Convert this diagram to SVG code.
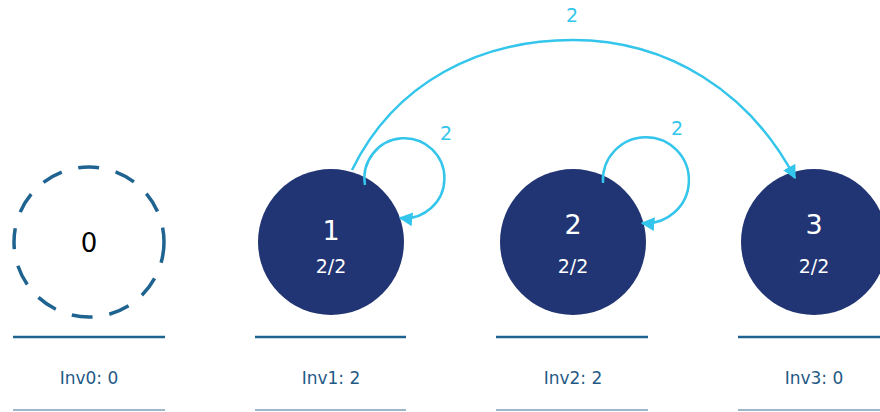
<svg xmlns="http://www.w3.org/2000/svg" width="880" height="412" viewBox="0 0 880 412">
<style>
.node{fill:#213473}
.nt{font-family:"DejaVu Sans","Liberation Sans",sans-serif;fill:#fff;text-anchor:middle}
.inv{font-family:"DejaVu Sans","Liberation Sans",sans-serif;fill:#1f5a85;font-size:17px;text-anchor:middle}
.top{stroke:#1f6391;stroke-width:2.5}
.bot{stroke:#3f6f95;stroke-width:1}
.edge{fill:none;stroke:#33c5eb;stroke-width:2.5}
.el{font-family:"DejaVu Sans","Liberation Sans",sans-serif;fill:#33c5eb;font-size:19px;text-anchor:middle}
</style>
<defs>
<marker id="arr" viewBox="0 0 10 10" refX="9" refY="5" markerWidth="5.5" markerHeight="5.5" orient="auto" markerUnits="strokeWidth">
<path d="M0,0 L10,5 L0,10 z" fill="#33c5eb"/>
</marker>
</defs>
<rect width="880" height="412" fill="#fff"/>
<g id="node0">
<circle cx="89" cy="242" r="75" fill="none" stroke="#1f6391" stroke-width="3.5" stroke-dasharray="21 17"/>
<text x="89" y="252" font-family="DejaVu Sans,Liberation Sans,sans-serif" font-size="26" text-anchor="middle" fill="#000">0</text>
<line class="top" x1="13" y1="337" x2="165" y2="337"/>
<text class="inv" x="89" y="384">Inv0: 0</text>
<line class="bot" x1="13" y1="410" x2="165" y2="410"/>
</g>
<g id="node1">
<circle class="node" cx="331" cy="242" r="73"/>
<text class="nt" x="331" y="240" font-size="27">1</text>
<text class="nt" x="331" y="273" font-size="19">2/2</text>
<line class="top" x1="255" y1="337" x2="406" y2="337"/>
<text class="inv" x="331" y="384">Inv1: 2</text>
<line class="bot" x1="255" y1="410" x2="406" y2="410"/>
</g>
<g id="node2">
<circle class="node" cx="573" cy="242" r="73"/>
<text class="nt" x="573" y="234" font-size="27">2</text>
<text class="nt" x="573" y="273" font-size="19">2/2</text>
<line class="top" x1="496" y1="337" x2="648" y2="337"/>
<text class="inv" x="573" y="384">Inv2: 2</text>
<line class="bot" x1="496" y1="410" x2="648" y2="410"/>
</g>
<g id="node3">
<circle class="node" cx="814" cy="242" r="73"/>
<text class="nt" x="814" y="234" font-size="27">3</text>
<text class="nt" x="814" y="273" font-size="19">2/2</text>
<line class="top" x1="738" y1="337" x2="880" y2="337"/>
<text class="inv" x="814" y="384">Inv3: 0</text>
<line class="bot" x1="738" y1="410" x2="880" y2="410"/>
</g>
<g id="connectors">
<path class="edge" d="M352,170 C395,82 480,40 573,40 C668,40 750,92 795,178" marker-end="url(#arr)"/>
<text class="el" x="572" y="22">2</text>
<path class="edge" d="M365,185 A40,40 0 1 1 400,218" marker-end="url(#arr)"/>
<text class="el" x="446" y="140">2</text>
<path class="edge" d="M603,183 A43,43 0 1 1 642,223" marker-end="url(#arr)"/>
<text class="el" x="677" y="135">2</text>
</g>
</svg>
